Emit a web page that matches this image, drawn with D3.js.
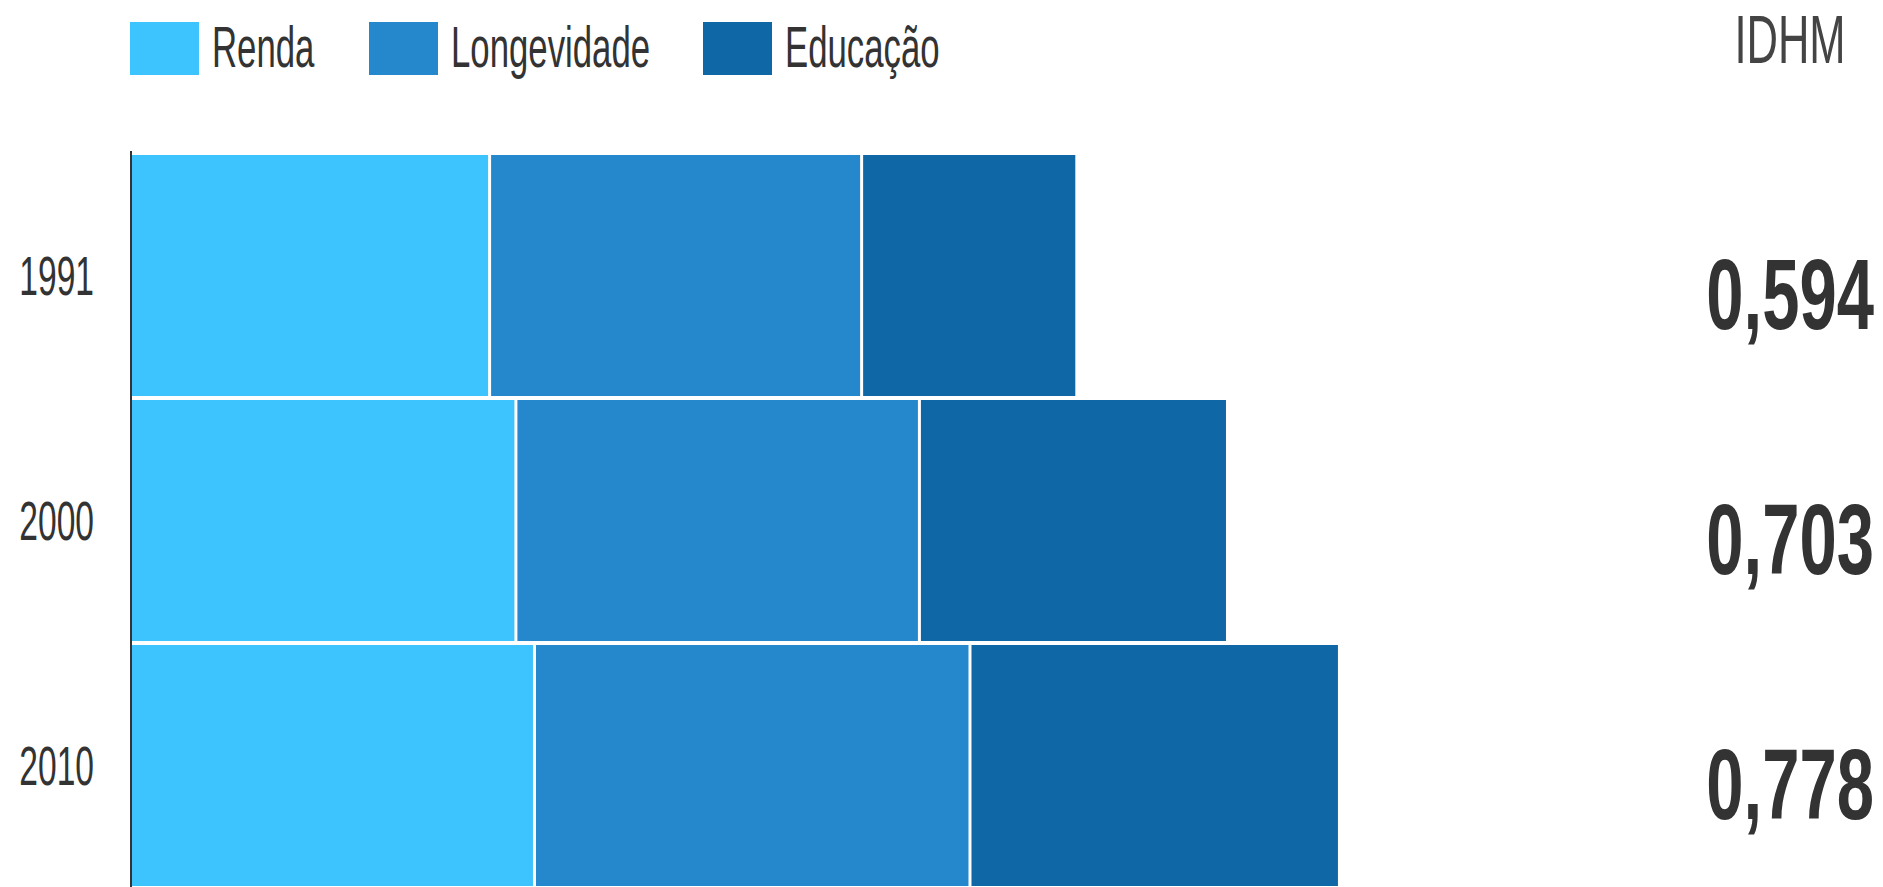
<!DOCTYPE html>
<html>
<head>
<meta charset="utf-8">
<script src="https://cdn.jsdelivr.net/npm/d3@7"></script>
<style>
    body { margin: 0; background: #fff; }
    text { font-family: "Liberation Sans", Arial, sans-serif; fill: #333; }
</style>
</head>
<body>
<script>
// IDHM por dimensão
var anos = ["1991", "2000", "2010"];
var dimensoes = ["Renda", "Longevidade", "Educação"];
var renda = [0.693, 0.744, 0.780];
var longevidade = [0.721, 0.782, 0.844];
var educacao = [0.417, 0.597, 0.716];
var idhm = ["0,594", "0,703", "0,778"];
var cores = ["#3dc4fe", "#2688cc", "#0f67a6"];

var width = 1883,
    height = 887;

var svg = d3.select("body")
    .append("svg")
    .attr("width", width)
    .attr("height", height);

var x = d3.scaleLinear()
    .domain([0, 3])
    .range([132, 1680]);

var y = d3.scaleBand()
    .domain(anos)
    .range([155, 886])
    .paddingInner(4 / 245)
    .paddingOuter(0);

var cor = d3.scaleOrdinal()
    .domain(dimensoes)
    .range(cores);

// monta as linhas empilhadas
var linhas = anos.map(function(ano, i) {
    return { ano: ano, Renda: renda[i], "Longevidade": longevidade[i], "Educação": educacao[i] };
});
var series = d3.stack().keys(dimensoes)(linhas);

var gap = 1.5;

svg.append("g")
    .selectAll("g")
    .data(series)
    .enter()
    .append("g")
    .attr("fill", function(d) { return cor(d.key); })
    .selectAll("rect")
    .data(function(d) { return d; })
    .enter()
    .append("rect")
    .attr("x", function(d) { return d[0] == 0 ? x(0) : x(d[0]) + gap; })
    .attr("y", function(d) { return y(d.data.ano); })
    .attr("height", y.bandwidth())
    .attr("width", function(d) {
        var x0 = d[0] == 0 ? x(0) : x(d[0]) + gap;
        return x(d[1]) - gap - x0;
    });

// eixo dos anos
var sx = 0.6;
var eixo = svg.append("g")
    .attr("transform", "translate(131,0)")
    .call(d3.axisLeft(y).tickSize(0).tickPadding(37));

eixo.select(".domain").remove();
eixo.selectAll("text")
    .attr("x", -37 / sx)
    .attr("dy", "0.35em")
    .attr("transform", "scale(" + sx + ",1)")
    .style("font-size", "56px")
    .style("font-family", "'Liberation Sans', Arial, sans-serif")
    .style("fill", "#333");

svg.append("line")
    .attr("x1", 131).attr("x2", 131)
    .attr("y1", y.range()[0] - 4).attr("y2", height)
    .attr("stroke", "#333")
    .attr("stroke-width", 2);

// legenda
var legX = [130, 369, 703];
var legenda = svg.append("g")
    .selectAll("g")
    .data(dimensoes)
    .enter()
    .append("g")
    .attr("transform", function(d, i) { return "translate(" + legX[i] + ",22)"; });

legenda.append("rect")
    .attr("width", 69)
    .attr("height", 53)
    .attr("fill", function(d) { return cor(d); });

legenda.append("text")
    .attr("transform", "translate(82,45) scale(0.61,1)")
    .style("font-size", "57px")
    .text(function(d) { return d; });

// coluna IDHM
svg.append("text")
    .attr("transform", "translate(1790,63) scale(0.64,1)")
    .attr("text-anchor", "middle")
    .style("font-size", "68px")
    .style("fill", "#444")
    .text("IDHM");

svg.append("g")
    .selectAll("text")
    .data(anos)
    .enter()
    .append("text")
    .attr("transform", function(d) {
        return "translate(1874," + (y(d) + y.bandwidth() / 2) + ") scale(0.67,1)";
    })
    .attr("text-anchor", "end")
    .attr("dy", "0.53em")
    .style("font-size", "100px")
    .style("font-weight", "bold")
    .text(function(d, i) { return idhm[i]; });
</script>
</body>
</html>
